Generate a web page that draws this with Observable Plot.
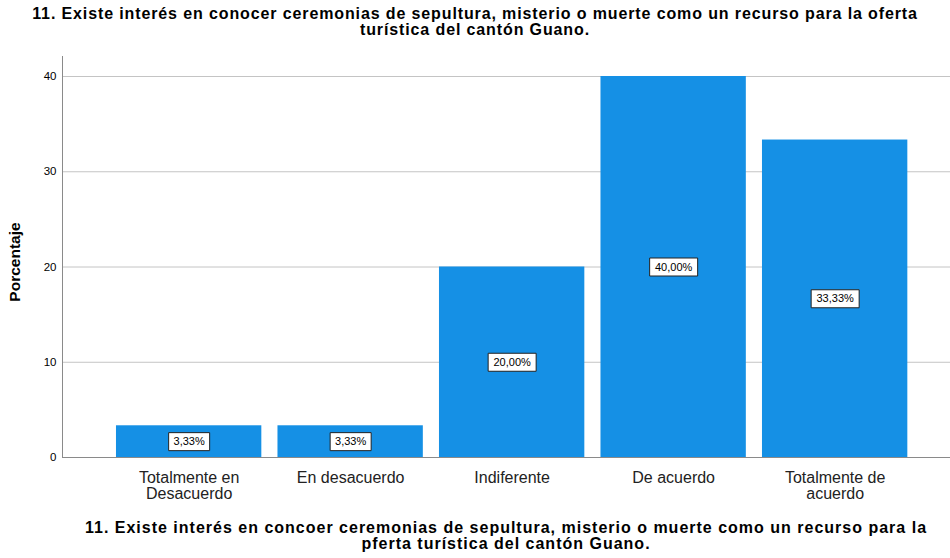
<!DOCTYPE html>
<html><head><meta charset="utf-8">
<script src="https://cdn.jsdelivr.net/npm/d3@7"></script>
<script src="https://cdn.jsdelivr.net/npm/@observablehq/plot@0.6"></script>
<style>
body{margin:0;background:#fff;font-family:"Liberation Sans",Arial,sans-serif;}
#title{height:40px;box-sizing:border-box;padding-top:6px;text-align:center;font-weight:bold;font-size:16px;letter-spacing:0.88px;line-height:16px;color:#000;width:950px;}
#caption{width:888px;margin-left:62px;box-sizing:border-box;padding-top:10px;text-align:center;font-weight:bold;font-size:16px;letter-spacing:1px;line-height:16px;color:#000;}
</style></head>
<body>
<div id="title">11. Existe interés en conocer ceremonias de sepultura, misterio o muerte como un recurso para la oferta<br>turística del cantón Guano.</div>
<div id="chart"></div>
<div id="caption">11. Existe interés en concoer ceremonias de sepultura, misterio o muerte como un recurso para la<br>pferta turística del cantón Guano.</div>
<script>
const categories = ["Totalmente en Desacuerdo", "En desacuerdo", "Indiferente", "De acuerdo", "Totalmente de acuerdo"];
const values = [3.33, 3.33, 20.00, 40.00, 33.33];
const valueLabels = ["3,33%", "3,33%", "20,00%", "40,00%", "33,33%"];
const tickLabels = ["Totalmente en\nDesacuerdo", "En desacuerdo", "Indiferente", "De acuerdo", "Totalmente de\nacuerdo"];
const yTicks = [0, 10, 20, 30, 40];

const data = categories.map((c, i) => ({cat: c, v: values[i], label: valueLabels[i]}));
const tickMap = new Map(categories.map((c, i) => [c, tickLabels[i]]));

function boxSymbol(w, h) {
  return {draw(ctx) { ctx.rect(-w / 2, -h / 2, w, h); }};
}

const chart = Plot.plot({
  width: 950,
  height: 470,
  marginLeft: 62,
  marginRight: 0,
  marginTop: 16,
  marginBottom: 53,
  style: {fontFamily: "'Liberation Sans', Arial, sans-serif", background: "#fff"},
  x: {type: "band", domain: categories, range: [107.9, 915.4], paddingInner: 0.1, paddingOuter: 0.05, round: false},
  y: {domain: [0, 42.1]},
  marks: [
    Plot.ruleY([10, 20, 30, 40], {stroke: "#c4c4c4", strokeWidth: 1}),
    Plot.barY(data, {x: "cat", y: "v", fill: "#1590e5"}),
    Plot.frame({anchor: "left", stroke: "#8a8a8a"}),
    Plot.ruleY([0], {stroke: "#8a8a8a"}),
    Plot.dot(data.filter(d => d.label.length === 5), {x: "cat", y: d => d.v / 2, symbol: boxSymbol(41, 18), fill: "white", stroke: "#222", strokeWidth: 1}),
    Plot.dot(data.filter(d => d.label.length === 6), {x: "cat", y: d => d.v / 2, symbol: boxSymbol(48, 18), fill: "white", stroke: "#222", strokeWidth: 1}),
    Plot.text(data, {x: "cat", y: d => d.v / 2, text: "label", fontSize: 11, fill: "#000"}),
    Plot.axisY({ticks: yTicks, tickSize: 0, tickPadding: 6, fontSize: 11.5, label: null, color: "#000"}),
    Plot.axisX({tickSize: 0, tickPadding: 14, fontSize: 16, lineHeight: 1, tickFormat: d => tickMap.get(d), label: null, color: "#222", style: {letterSpacing: "1px"}}),
    Plot.text(["Porcentaje"], {frameAnchor: "left", textAnchor: "middle", dx: -47, dy: 5, rotate: -90, fontSize: 15.5, fontWeight: "bold", fill: "#000"})
  ]
});
document.getElementById("chart").appendChild(chart);
</script>
</body></html>
